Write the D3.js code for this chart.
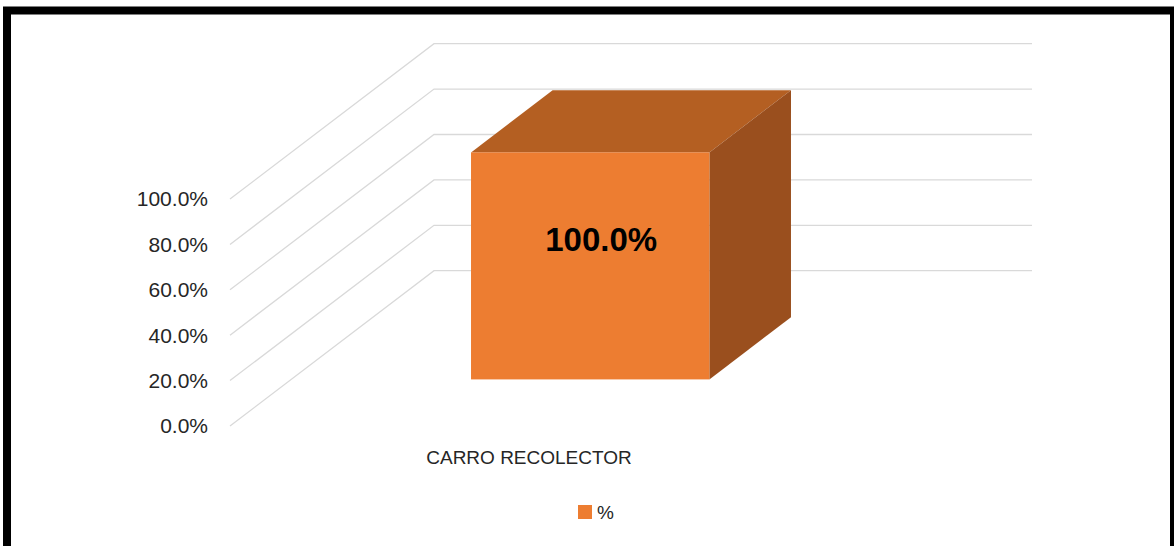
<!DOCTYPE html>
<html>
<head>
<meta charset="utf-8">
<script src="https://cdn.jsdelivr.net/npm/d3@7"></script>
<style>
  body { margin: 0; background: #fff; }
  svg { display: block; font-family: 'Liberation Sans', Arial, sans-serif; }
</style>
</head>
<body>
<div id="wrapper"></div>
<script>
// Data
const categories = ['CARRO RECOLECTOR'];
const values = [1.0];
const tickValues = [0, 0.2, 0.4, 0.6, 0.8, 1.0];
const seriesName = '%';

const width = 1174;
const height = 546;

// plot geometry (front plane of the 3D box)
const floorFront = 426;
const ceilFront = 199;
const plotLeft = 230;
const plotRight = 828;
const depth = { dx: 204, dy: -155.3 }; // full depth of the box
const barDepth = [0.3, 0.7];            // bar sits between these depth fractions

const colors = {
  front: '#ED7D31',
  top: '#B45F22',
  side: '#9A4F1E',
  grid: '#D9D9D9',
};

// Scales
const yScale = d3.scaleLinear().domain([0, 1]).range([floorFront, ceilFront]);
const xScale = d3
  .scaleBand()
  .domain(categories)
  .range([plotLeft, plotRight])
  .padding(0.43);

const shift = (x, y, f) => [x + depth.dx * f, y + depth.dy * f];

const svg = d3
  .select('#wrapper')
  .append('svg')
  .attr('width', width)
  .attr('height', height);

// frame
svg
  .append('rect')
  .attr('x', 7)
  .attr('y', 10.5)
  .attr('width', 1167)
  .attr('height', 560)
  .attr('fill', 'none')
  .attr('stroke', '#000')
  .attr('stroke-width', 8);

// Gridlines: side wall diagonal + back wall horizontal
const grid = svg.append('g');
grid
  .selectAll('path')
  .data(tickValues)
  .join('path')
  .attr('d', (d) => {
    const y = yScale(d);
    const [bx, by] = shift(plotLeft, y, 1);
    return `M${plotLeft},${y}L${bx},${by}L${plotRight + depth.dx},${by}`;
  })
  .attr('fill', 'none')
  .attr('stroke', colors.grid)
  .attr('stroke-width', 1.3);

// Tick labels
svg
  .append('g')
  .selectAll('text')
  .data(tickValues)
  .join('text')
  .attr('x', 208)
  .attr('y', (d) => yScale(d))
  .attr('dy', '0.35em')
  .attr('text-anchor', 'end')
  .attr('fill', '#262626')
  .style('font-size', '21px')
  .text((d) => d3.format('.1%')(d));

// Bars (3D boxes)
const bars = svg.append('g');
categories.forEach((c, i) => {
  const x0 = xScale(c);
  const x1 = x0 + xScale.bandwidth();
  const [fx0, fy0] = shift(x0, yScale(0), barDepth[0]);
  const [fx1, fyTop] = shift(x1, yScale(values[i]), barDepth[0]);
  const dd = barDepth[1] - barDepth[0];
  const ox = depth.dx * dd;
  const oy = depth.dy * dd;

  // top face
  bars
    .append('path')
    .attr(
      'd',
      `M${fx0},${fyTop}L${fx1},${fyTop}L${fx1 + ox},${fyTop + oy}L${fx0 + ox},${fyTop + oy}Z`
    )
    .attr('fill', colors.top);

  // side face
  bars
    .append('path')
    .attr(
      'd',
      `M${fx1},${fyTop}L${fx1 + ox},${fyTop + oy}L${fx1 + ox},${fy0 + oy}L${fx1},${fy0}Z`
    )
    .attr('fill', colors.side);

  // front face
  bars
    .append('rect')
    .attr('x', fx0)
    .attr('y', fyTop)
    .attr('width', fx1 - fx0)
    .attr('height', fy0 - fyTop)
    .attr('fill', colors.front);

  // data label
  bars
    .append('text')
    .attr('x', (fx0 + fx1) / 2 + 11)
    .attr('y', (fyTop + fy0) / 2 - 26)
    .attr('dy', '0.35em')
    .attr('text-anchor', 'middle')
    .attr('fill', '#000')
    .style('font-size', '33px')
    .style('font-weight', 'bold')
    .text(d3.format('.1%')(values[i]));
});

// Category labels
svg
  .append('g')
  .selectAll('text')
  .data(categories)
  .join('text')
  .attr('x', (d) => xScale(d) + xScale.bandwidth() / 2)
  .attr('y', 457)
  .attr('dy', '0.35em')
  .attr('text-anchor', 'middle')
  .attr('fill', '#262626')
  .style('font-size', '19px')
  .text((d) => d);

// Legend
const legend = svg.append('g').attr('transform', 'translate(578, 505)');
legend
  .append('rect')
  .attr('width', 14)
  .attr('height', 14)
  .attr('fill', colors.front);
legend
  .append('text')
  .attr('x', 19)
  .attr('y', 7)
  .attr('dy', '0.35em')
  .attr('fill', '#262626')
  .style('font-size', '19px')
  .text(seriesName);
</script>
</body>
</html>
